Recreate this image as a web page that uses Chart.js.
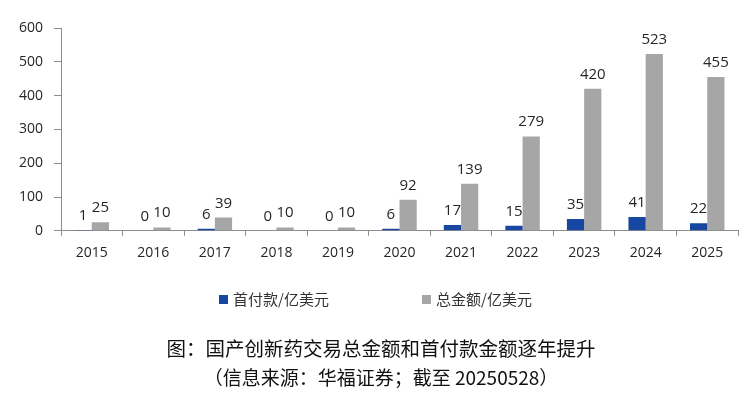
<!DOCTYPE html>
<html>
<head>
<meta charset="utf-8">
<script src="https://cdn.jsdelivr.net/npm/chart.js@4.4.1/dist/chart.umd.min.js"></script>
<style>
html,body{margin:0;padding:0;background:#ffffff;}
#wrap{width:754px;height:394px;}
</style>
</head>
<body>
<div id="wrap"><canvas id="c" width="754" height="394"></canvas></div>
<script>
// ---- data ----
const years = ['2015','2016','2017','2018','2019','2020','2021','2022','2023','2024','2025'];
const upfront = [1, 0, 6, 0, 0, 6, 17, 15, 35, 41, 22];
const total = [25, 10, 39, 10, 10, 92, 139, 279, 420, 523, 455];
const yTicks = [0, 100, 200, 300, 400, 500, 600];
const seriesNames = ['首付款/亿美元', '总金额/亿美元'];
const captionLines = ['图：国产创新药交易总金额和首付款金额逐年提升', '（信息来源：华福证券；截至 20250528）'];

const BLUE = '#1747A0';
const GRAY = '#A6A6A6';
const AXIS = '#8c8c8c';
const TXT = '#262626';
const NUMFONT = '"Open Sans", "Liberation Sans", sans-serif';
const CJKFONT = '"Noto Sans CJK SC", "Noto Sans", sans-serif';

const valueLabels = {
  id: 'valueLabels',
  afterDatasetsDraw(chart) {
    const ctx = chart.ctx;
    ctx.save();
    ctx.font = '15px ' + NUMFONT;
    ctx.fillStyle = TXT;
    ctx.textAlign = 'center';
    ctx.textBaseline = 'alphabetic';
    chart.data.datasets.forEach((ds, i) => {
      const meta = chart.getDatasetMeta(i);
      meta.data.forEach((bar, j) => {
        ctx.fillText(String(ds.data[j]), bar.x, bar.y - 10);
      });
    });
    ctx.restore();
  }
};

const bottomLegend = {
  id: 'bottomLegend',
  afterDraw(chart) {
    const ctx = chart.ctx;
    const xs = [219, 422];
    const yc = 299.5;
    ctx.save();
    ctx.font = '15px ' + CJKFONT;
    ctx.textBaseline = 'middle';
    ctx.textAlign = 'left';
    chart.data.datasets.forEach((ds, i) => {
      ctx.fillStyle = ds.backgroundColor;
      ctx.fillRect(xs[i], yc - 4.5, 9, 9);
      ctx.fillStyle = '#333333';
      ctx.fillText(ds.label, xs[i] + 14, yc);
    });
    ctx.restore();
  }
};

// shift the caption blocks so they are centred like the original figure caption
const captionShift = {
  id: 'captionShift',
  afterLayout(chart) {
    chart.boxes.forEach(b => {
      if (b.options && typeof b.options.text === 'string' && captionLines.includes(b.options.text)) {
        b.left = 24;
        b.right = 738;
        b.width = b.right - b.left;
      }
    });
  }
};

new Chart(document.getElementById('c'), {
  type: 'bar',
  data: {
    labels: years,
    datasets: [
      { label: seriesNames[0], data: upfront, backgroundColor: BLUE, borderWidth: 0,
        categoryPercentage: 0.56, barPercentage: 1.0 },
      { label: seriesNames[1], data: total, backgroundColor: GRAY, borderWidth: 0,
        categoryPercentage: 0.56, barPercentage: 1.0 }
    ]
  },
  options: {
    responsive: false,
    animation: false,
    devicePixelRatio: 1,
    layout: { padding: { top: 28, right: 16, bottom: 5, left: 0 } },
    plugins: {
      legend: { display: false },
      tooltip: { enabled: false },
      title: {
        display: true, text: captionLines[0], position: 'bottom', weight: 1,
        color: '#111111',
        font: { family: CJKFONT, size: 19.5, weight: 'normal', lineHeight: 1.2 },
        padding: { top: 0, bottom: 6.4 }
      },
      subtitle: {
        display: true, text: captionLines[1], position: 'bottom', weight: 2,
        color: '#111111',
        font: { family: CJKFONT, size: 19, weight: 'normal', lineHeight: 1.2 },
        padding: { top: 0, bottom: 0 }
      }
    },
    scales: {
      x: {
        offset: true,
        grid: { display: true, drawOnChartArea: false, drawTicks: true, tickLength: 5,
                color: AXIS, offset: true },
        border: { display: true, color: AXIS },
        ticks: { color: TXT, font: { family: NUMFONT, size: 14 }, padding: 9, maxRotation: 0 },
        afterFit(s) { s.height = 105.6; }
      },
      y: {
        min: 0, max: 600,
        afterBuildTicks(s) { s.ticks = yTicks.map(v => ({ value: v })); },
        grid: { display: true, drawOnChartArea: false, drawTicks: true, tickLength: 7, color: AXIS },
        border: { display: true, color: AXIS },
        ticks: { color: TXT, font: { family: NUMFONT, size: 14 }, padding: 11 },
        afterFit(s) { s.width = 61; }
      }
    }
  },
  plugins: [valueLabels, bottomLegend, captionShift]
});
</script>
</body>
</html>
